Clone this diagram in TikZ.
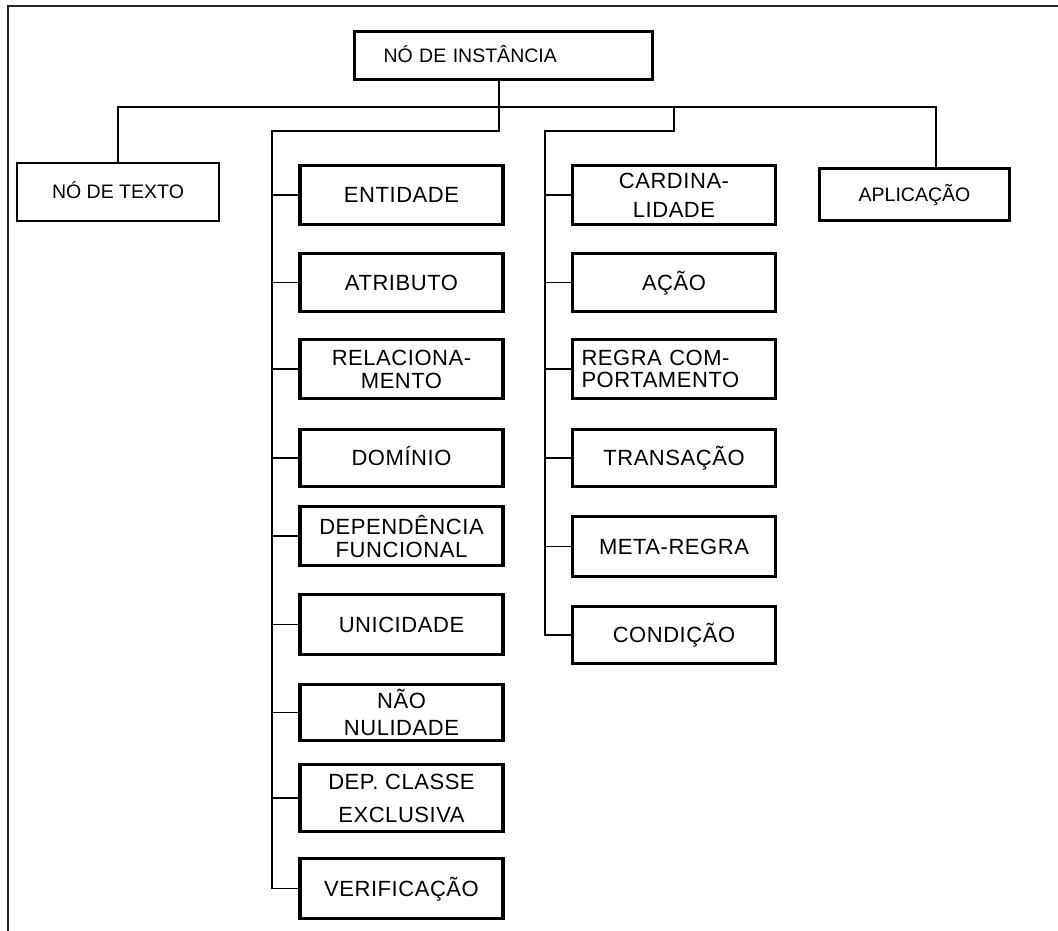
\documentclass[tikz,border=0pt]{standalone}
\usepackage{fontspec}
\setmainfont{Liberation Sans}
\newfontfamily\boxfont[LetterSpace=2.5]{Liberation Sans}
\begin{document}
\begin{tikzpicture}[x=1pt,y=-1pt,
  conn/.style={line width=1.6pt},
  frameline/.style={line width=2pt, draw=black!85},
  bx/.style={draw, line width=3.2pt, inner sep=0pt, outer sep=0pt,
    minimum width=203pt, align=center,
    font={\boxfont\fontsize{22}{23}\selectfont}},
  oneline/.style={text height=15.8pt, text depth=0pt},
  plainlbl/.style={inner sep=0pt, outer sep=0pt,
    font={\fontsize{19.5}{22}\selectfont}, text height=14pt, text depth=0pt}
]
\useasboundingbox (0,0) rectangle (1058,931);

% open frame: top and left rules
\draw[frameline] (8,931) -- (8,6) -- (1058,6);

% top level
\node[plainlbl, draw, line width=3.2pt, minimum width=298pt, minimum height=48pt,
      text width=240pt, align=left] (root) at (503.5,55.5) {NÓ DE INSTÂNCIA};
\node[plainlbl, draw, line width=2pt, minimum width=202pt, minimum height=58pt]
      (texto) at (118,192) {NÓ DE TEXTO};
\node[plainlbl, draw, line width=3.2pt, minimum width=190pt, minimum height=52pt]
      (aplic) at (914.5,194.5) {APLICAÇÃO};

% left column
\node[bx, oneline, minimum height=59pt] (e1) at (401.5,195)   {ENTIDADE};
\node[bx, oneline, minimum height=58pt] (e2) at (401.5,282.5) {ATRIBUTO};
\node[bx, minimum height=59pt]          (e3) at (401.5,369)   {RELACIONA-\\MENTO};
\node[bx, oneline, minimum height=57pt] (e4) at (401.5,458)   {DOMÍNIO};
\node[bx, minimum height=59pt]          (e5) at (401.5,536)   {DEPENDÊNCIA\\FUNCIONAL};
\node[bx, oneline, minimum height=60pt] (e6) at (401.5,624.5) {UNICIDADE};
\node[bx, minimum height=56pt]          (e7) at (401.5,712.5) {NÃO\\[4pt]NULIDADE};
\node[bx, minimum height=67pt]          (e8) at (401.5,798)   {DEP. CLASSE\\[10pt]EXCLUSIVA};
\node[bx, oneline, minimum height=60pt] (e9) at (401.5,888.5) {VERIFICAÇÃO};

% right column
\node[bx, minimum height=59pt]          (r1) at (674,195)   {CARDINA-\\[6pt]LIDADE};
\node[bx, oneline, minimum height=58pt] (r2) at (674,282.5) {AÇÃO};
\node[bx, minimum height=59pt, text width=185pt, align=left]
                                        (r3) at (674,369)   {REGRA COM-\\[-1pt]PORTAMENTO};
\node[bx, oneline, minimum height=57pt] (r4) at (674,458)   {TRANSAÇÃO};
\node[bx, oneline, minimum height=60pt] (r5) at (674,546.5) {META-REGRA};
\node[bx, oneline, minimum height=57pt] (r6) at (674,635)   {CONDIÇÃO};

% junction points of the tree
\coordinate (tbar)  at (499,107);
\coordinate (lbar)  at (499,131);
\coordinate (lcol)  at (272,131);
\coordinate (rtap)  at (674,107);
\coordinate (rcol)  at (545,131);
\coordinate (aptap) at (936,107);

% trunk and top bar
\draw[conn] (root.south -| lbar) -- (lbar) -- (lcol) |- (e9.west);
\draw[conn] (texto.north) |- (aptap) -- (aplic.north -| aptap);
\draw[conn] (rtap) -- (rtap |- rcol) -- (rcol) |- (r6.west);

% branches to the boxes
\foreach \n in {e1,e2,e3,e4,e5,e6,e7,e8}
  \draw[conn] (\n.west) -- (\n.west -| lcol);
\foreach \n in {r1,r2,r3,r4,r5}
  \draw[conn] (\n.west) -- (\n.west -| rcol);
\end{tikzpicture}
\end{document}
